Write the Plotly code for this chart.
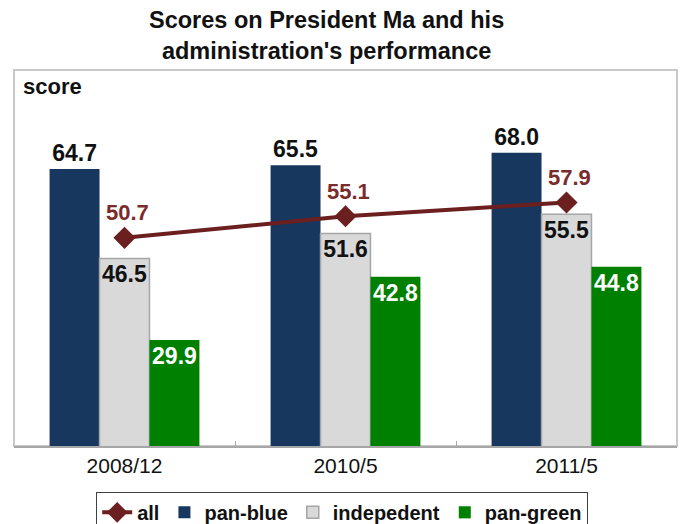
import plotly.graph_objects as go

categories = ["2008/12", "2010/5", "2011/5"]
all_scores = [50.7, 55.1, 57.9]
pan_blue = [64.7, 65.5, 68.0]
independent = [46.5, 51.6, 55.5]
pan_green = [29.9, 42.8, 44.8]

FONT = "Liberation Sans, Arial, sans-serif"
MAROON = "#6b1f1f"

fig = go.Figure()
fig.add_trace(go.Scatter(
    name="all", x=categories, y=all_scores, mode="lines+markers",
    line=dict(color=MAROON, width=4),
    marker=dict(symbol="diamond", size=17, color=MAROON),
))
fig.add_trace(go.Bar(
    name="pan-blue", x=categories, y=pan_blue, marker_color="#17375e",
    marker_line_width=0, text=[f"{v:.1f}" for v in pan_blue],
    textposition="outside", textfont=dict(size=23, color="#111111", family=FONT),
    texttemplate="<b>%{text}</b>", cliponaxis=False, textangle=0, constraintext="none",
))
fig.add_trace(go.Bar(
    name="indepedent", x=categories, y=independent, marker_color="#d9d9d9",
    marker_line=dict(color="#a6a6a6", width=1.5), text=[f"{v:.1f}" for v in independent],
    textposition="inside", insidetextanchor="end", textangle=0, constraintext="none",
    textfont=dict(size=23, color="#111111", family=FONT), texttemplate="<b>%{text}</b>",
))
fig.add_trace(go.Bar(
    name="pan-green", x=categories, y=pan_green, marker_color="#008000",
    marker_line_width=0, text=[f"{v:.1f}" for v in pan_green],
    textposition="inside", insidetextanchor="end", textangle=0, constraintext="none",
    textfont=dict(size=23, color="white", family=FONT), texttemplate="<b>%{text}</b>",
))

for c, v in zip(categories, all_scores):
    fig.add_annotation(x=c, y=v, text=f"<b>{v:.1f}</b>", showarrow=False, yshift=25, xshift=3,
                       font=dict(size=22, color="#7a2c2c", family=FONT))

fig.add_annotation(xref="paper", yref="paper", x=0.01, y=0.996, xanchor="left", yanchor="top",
                   text="<b>score</b>", showarrow=False, font=dict(size=22, color="#111111", family=FONT))

fig.add_annotation(xref="paper", yref="paper", x=0.472, y=1.172, xanchor="center", yanchor="top",
                   text="<b>Scores on President Ma and his<br>administration's performance</b>",
                   showarrow=False, font=dict(size=23.5, color="#111111", family=FONT))

fig.add_shape(type="rect", xref="paper", yref="paper", x0=0, x1=1, y0=0, y1=1,
              line=dict(color="#c8c8c8", width=2), layer="below")

fig.update_layout(
    width=680, height=524,
    margin=dict(l=14, r=3, t=70, b=78, autoexpand=False),
    paper_bgcolor="white", plot_bgcolor="white",
    barmode="group", bargap=0.322, bargroupgap=0,
    xaxis=dict(showline=True, linecolor="#a6a6a6", linewidth=2, tickson="boundaries",
               ticks="inside", ticklen=5, tickcolor="#a6a6a6",
               tickfont=dict(size=21, color="#111111", family=FONT), showgrid=False),
    yaxis=dict(range=[8.34, 84.86], visible=False, showgrid=False),
    legend=dict(orientation="h", x=0.495, xanchor="center", y=-0.122, yanchor="top",
                traceorder="normal", bordercolor="#404040", borderwidth=1,
                font=dict(size=20, color="#111111", family=FONT, weight="bold"), itemwidth=30),
    showlegend=True,
)

fig.write_html("out.html", config={"displayModeBar": False},
               post_script="document.body.style.margin='0px';document.body.style.overflow='hidden';")
